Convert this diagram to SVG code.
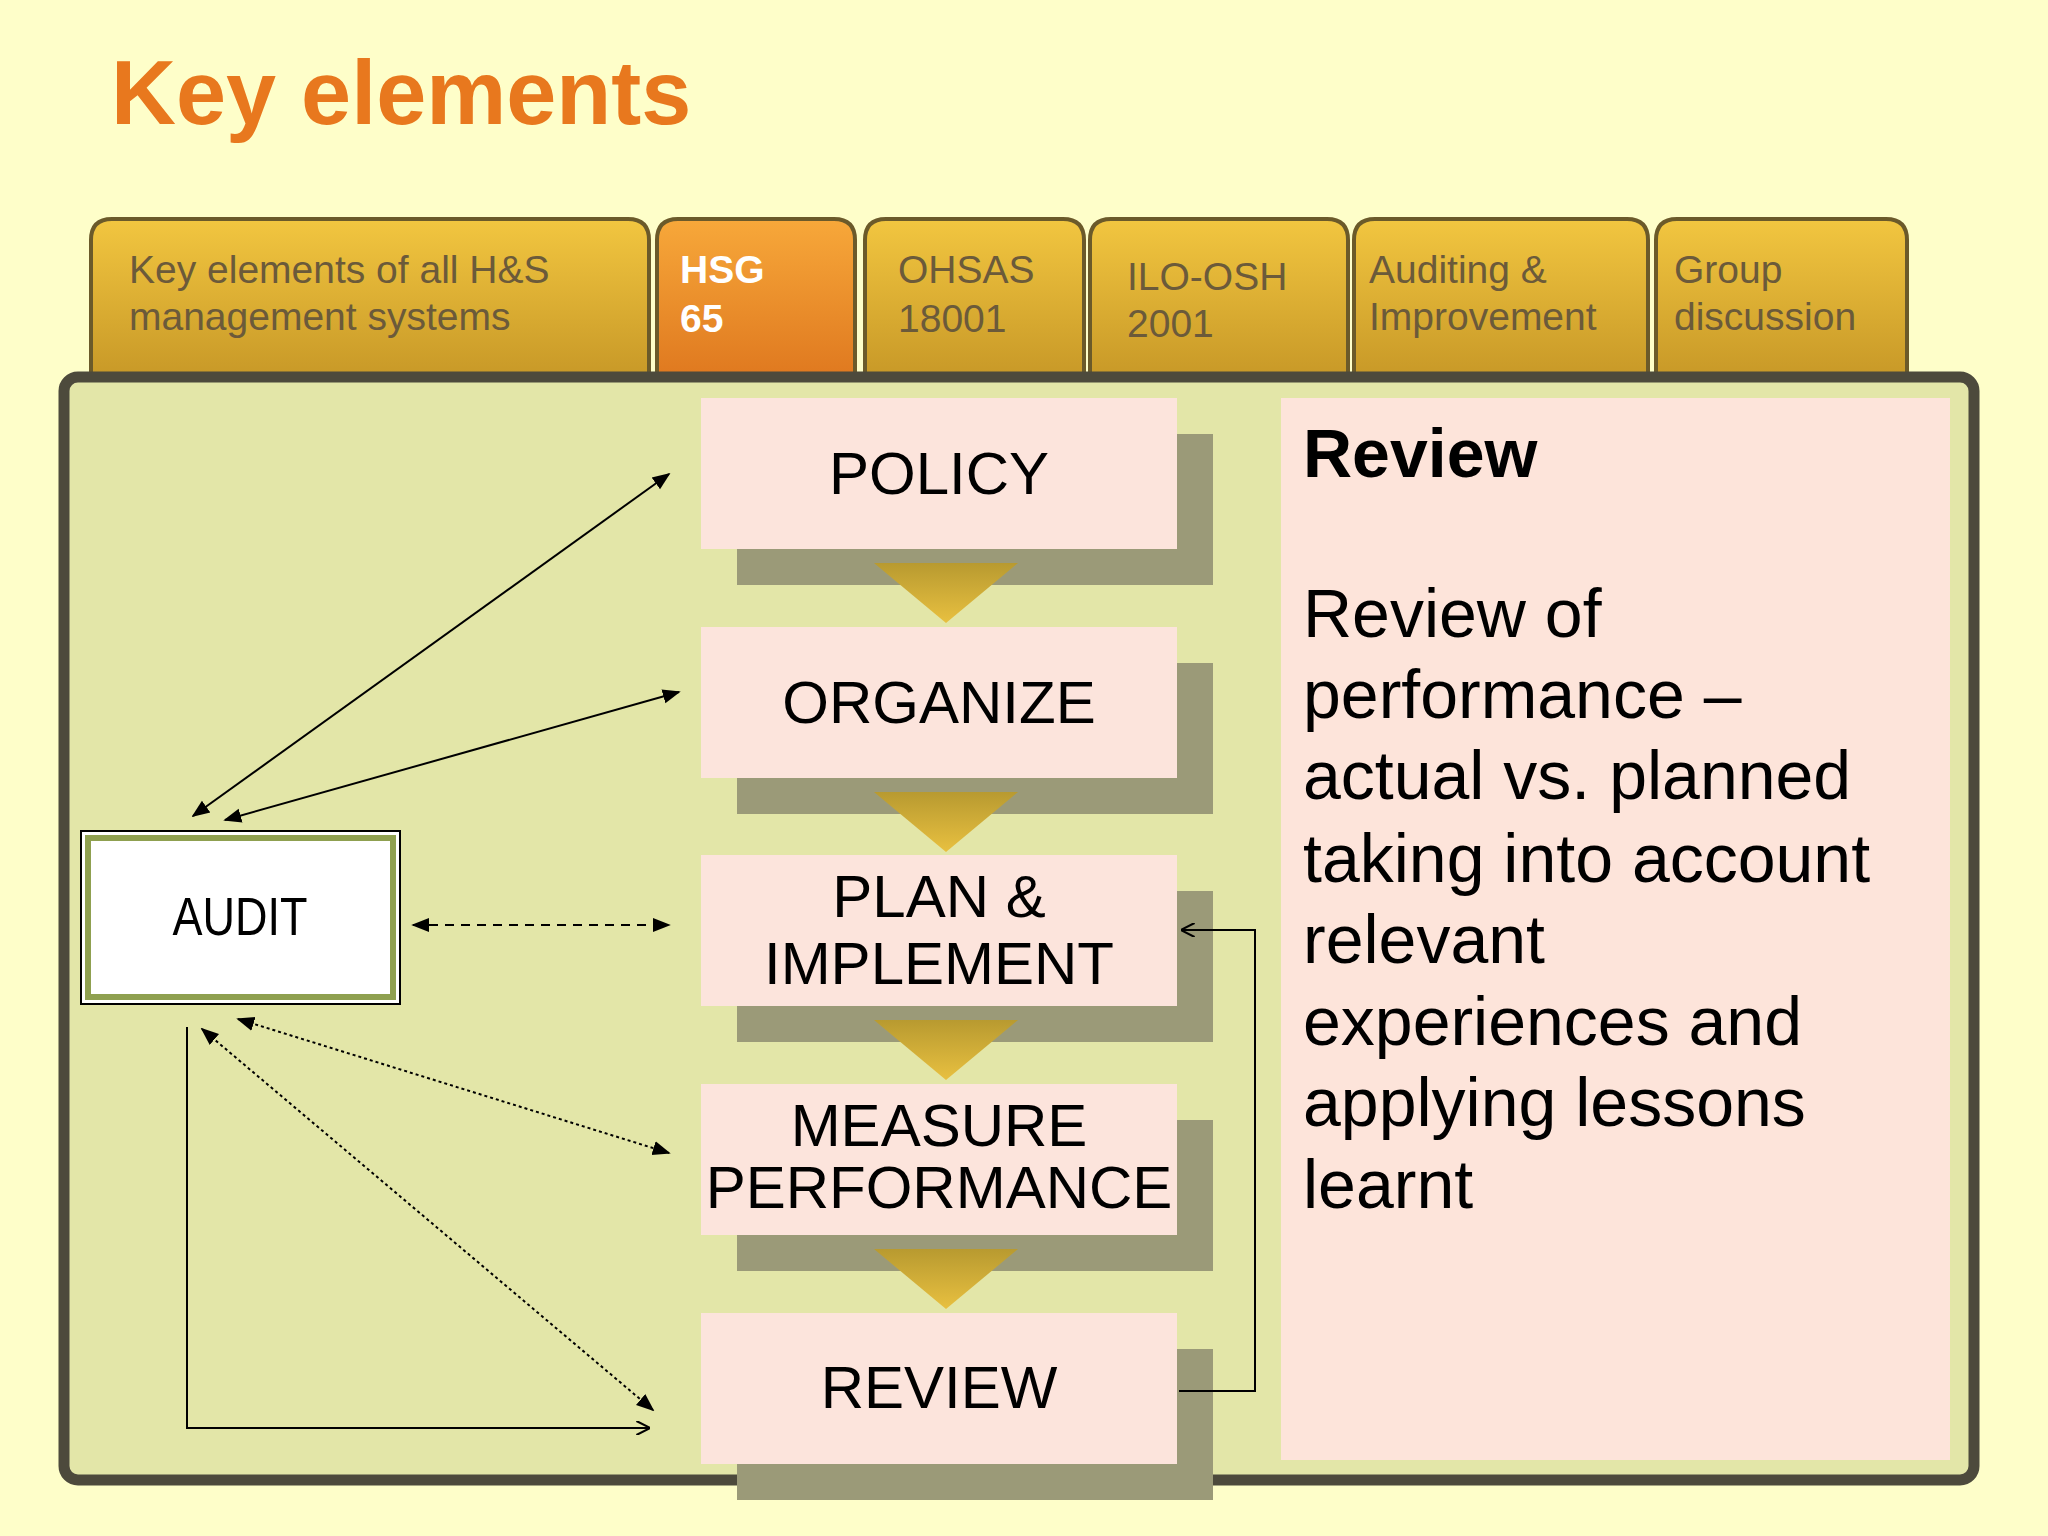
<svg xmlns="http://www.w3.org/2000/svg" width="2048" height="1536" viewBox="0 0 2048 1536">
<defs>
<linearGradient id="tab" x1="0" y1="0" x2="0" y2="1"><stop offset="0" stop-color="#f2c640"/><stop offset="1" stop-color="#c99a28"/></linearGradient>
<linearGradient id="tabA" x1="0" y1="0" x2="0" y2="1"><stop offset="0" stop-color="#f7a83a"/><stop offset="1" stop-color="#e07a20"/></linearGradient>
<linearGradient id="chev" x1="0" y1="0" x2="0" y2="1"><stop offset="0" stop-color="#b89a30"/><stop offset="1" stop-color="#e8c040"/></linearGradient>
<marker id="ah" viewBox="0 0 10 10" refX="9" refY="5" markerWidth="9" markerHeight="9" orient="auto-start-reverse"><path d="M0,1 L10,5 L0,9 Z" fill="#000"/></marker>
<marker id="oa" viewBox="0 0 10 10" refX="9" refY="5" markerWidth="14" markerHeight="14" orient="auto" markerUnits="userSpaceOnUse"><path d="M0,0 L10,5 L0,10" fill="none" stroke="#000" stroke-width="1.5"/></marker>
</defs>
<style>
.tab{stroke:#6b5a2a;stroke-width:4}
.tt{font-family:"Liberation Sans",Arial,sans-serif;font-size:39px;fill:#6b5a3a}
.box{fill:#fce4dc}
.sh{fill:#9b9a78}
.bt{font-family:"Liberation Sans",Arial,sans-serif;font-size:60px;fill:#000;text-anchor:middle}
.rv{font-family:"Liberation Sans",Arial,sans-serif;font-size:68px;fill:#000}
.ln{stroke:#000;stroke-width:2;fill:none}
</style>
<rect width="2048" height="1536" fill="#fefec9"/>
<text x="111" y="124" font-family="Liberation Sans,Arial,sans-serif" font-weight="bold" font-size="90" fill="#e8781e">Key elements</text>
<g id="tabs">
<path class="tab" d="M91,372 V240 Q91,219 112,219 H628 Q649,219 649,240 V372" fill="url(#tab)"/>
<path class="tab" d="M657,372 V240 Q657,219 678,219 H834 Q855,219 855,240 V372" fill="url(#tabA)"/>
<path class="tab" d="M865,372 V240 Q865,219 886,219 H1063 Q1084,219 1084,240 V372" fill="url(#tab)"/>
<path class="tab" d="M1090,372 V240 Q1090,219 1111,219 H1327 Q1348,219 1348,240 V372" fill="url(#tab)"/>
<path class="tab" d="M1354,372 V240 Q1354,219 1375,219 H1627 Q1648,219 1648,240 V372" fill="url(#tab)"/>
<path class="tab" d="M1656,372 V240 Q1656,219 1677,219 H1886 Q1907,219 1907,240 V372" fill="url(#tab)"/>
<text class="tt" x="129" y="283">Key elements of all H&amp;S</text><text class="tt" x="129" y="330">management systems</text>
<text class="tt" x="680" y="283" font-weight="bold" style="fill:#fff">HSG</text><text class="tt" x="680" y="332" font-weight="bold" style="fill:#fff">65</text>
<text class="tt" x="898" y="283">OHSAS</text><text class="tt" x="898" y="332">18001</text>
<text class="tt" x="1127" y="290">ILO-OSH</text><text class="tt" x="1127" y="337">2001</text>
<text class="tt" x="1369" y="283">Auditing &amp;</text><text class="tt" x="1369" y="330">Improvement</text>
<text class="tt" x="1674" y="283">Group</text><text class="tt" x="1674" y="330">discussion</text>
</g>
<rect x="64" y="377" width="1910" height="1103" rx="14" fill="#e3e6a8" stroke="#4d4a3c" stroke-width="11"/>
<g id="shadows">
<rect class="sh" x="737" y="434" width="476" height="151"/>
<rect class="sh" x="737" y="663" width="476" height="151"/>
<rect class="sh" x="737" y="891" width="476" height="151"/>
<rect class="sh" x="737" y="1120" width="476" height="151"/>
<rect class="sh" x="737" y="1349" width="476" height="151"/>
</g>
<g id="chevrons" fill="url(#chev)">
<path d="M874,563 H1018 L946,623 Z"/>
<path d="M874,792 H1018 L946,852 Z"/>
<path d="M874,1020 H1018 L946,1080 Z"/>
<path d="M874,1249 H1018 L946,1309 Z"/>
</g>
<g id="policy"><rect class="box" x="701" y="398" width="476" height="151"/><text class="bt" x="939" y="494">POLICY</text></g>
<g id="organize"><rect class="box" x="701" y="627" width="476" height="151"/><text class="bt" x="939" y="723">ORGANIZE</text></g>
<g id="plan"><rect class="box" x="701" y="855" width="476" height="151"/><text class="bt" x="939" y="917" font-size="58">PLAN &amp;</text><text class="bt" x="939" y="984" font-size="58">IMPLEMENT</text></g>
<g id="measure"><rect class="box" x="701" y="1084" width="476" height="151"/><text class="bt" x="939" y="1146" font-size="53">MEASURE</text><text class="bt" x="939" y="1208" font-size="53">PERFORMANCE</text></g>
<g id="review"><rect class="box" x="701" y="1313" width="476" height="151"/><text class="bt" x="939" y="1408">REVIEW</text></g>
<g id="audit"><rect x="81" y="831" width="319" height="173" fill="#fff" stroke="#000" stroke-width="2"/><rect x="88" y="838" width="305" height="159" fill="none" stroke="#8fa050" stroke-width="6"/><text x="240" y="935" font-family="Liberation Sans Narrow,Liberation Sans,sans-serif" font-size="54" text-anchor="middle" textLength="135" lengthAdjust="spacingAndGlyphs">AUDIT</text></g>
<g id="reviewpanel"><rect x="1281" y="398" width="669" height="1062" fill="#fde4da"/>
<text class="rv" x="1303" y="477" font-weight="bold">Review</text>
<text class="rv" x="1303" y="637">Review of</text>
<text class="rv" x="1303" y="718">performance –</text>
<text class="rv" x="1303" y="799">actual vs. planned</text>
<text class="rv" x="1303" y="882">taking into account</text>
<text class="rv" x="1303" y="963">relevant</text>
<text class="rv" x="1303" y="1045">experiences and</text>
<text class="rv" x="1303" y="1126">applying lessons</text>
<text class="rv" x="1303" y="1208">learnt</text>
</g>
<g id="connectors">
<line class="ln" x1="193" y1="816" x2="669" y2="474" marker-start="url(#ah)" marker-end="url(#ah)"/>
<line class="ln" x1="225" y1="820" x2="679" y2="692" marker-start="url(#ah)" marker-end="url(#ah)"/>
<line class="ln" x1="413" y1="925" x2="669" y2="925" stroke-dasharray="9,7" marker-start="url(#ah)" marker-end="url(#ah)"/>
<line class="ln" x1="238" y1="1019" x2="669" y2="1153" stroke-dasharray="3,3" marker-start="url(#ah)" marker-end="url(#ah)"/>
<line class="ln" x1="202" y1="1029" x2="653" y2="1410" stroke-dasharray="3,3" marker-start="url(#ah)" marker-end="url(#ah)"/>
<path class="ln" d="M187,1027 V1428 H649" marker-end="url(#oa)"/>
<path class="ln" d="M1179,1391 H1255 V930 H1182" marker-end="url(#oa)"/>
</g>
</svg>
